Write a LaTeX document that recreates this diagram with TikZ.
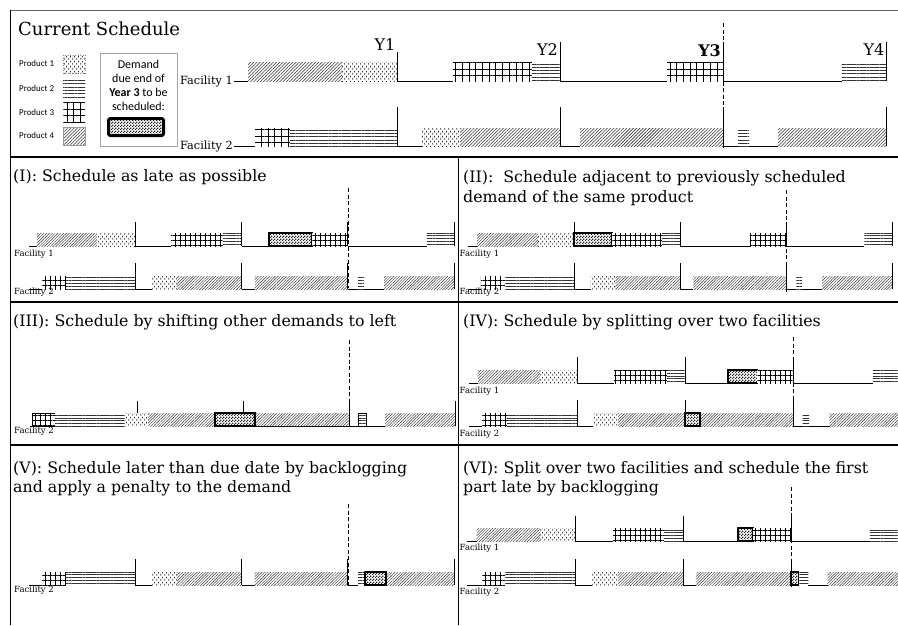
\documentclass[tikz,border=0pt]{standalone}
\usepackage{fontspec}
\setmainfont{DejaVu Serif}
\newfontfamily\calfont{Carlito}
\usetikzlibrary{patterns.meta}
\pgfdeclarepattern{
  name=vdots,
  type=uncolored,
  bottom left={\pgfpoint{0pt}{0pt}},
  top right={\pgfpoint{4pt}{5pt}},
  tile size={\pgfpoint{4pt}{5pt}},
  code={
    \pgfpathrectangle{\pgfpoint{0.5pt}{0.4pt}}{\pgfpoint{0.9pt}{2pt}}
    \pgfpathrectangle{\pgfpoint{2.5pt}{2.9pt}}{\pgfpoint{0.9pt}{1.8pt}}
    \pgfusepath{fill}
  }
}
\pgfdeclarepattern{
  name=ddots,
  type=uncolored,
  bottom left={\pgfpoint{0pt}{0pt}},
  top right={\pgfpoint{3pt}{3pt}},
  tile size={\pgfpoint{3pt}{3pt}},
  code={
    \pgfpathrectangle{\pgfpoint{0pt}{0pt}}{\pgfpoint{1.5pt}{1.5pt}}
    \pgfpathrectangle{\pgfpoint{1.5pt}{1.5pt}}{\pgfpoint{1.5pt}{1.5pt}}
    \pgfusepath{fill}
  }
}
\newcommand\rowset[5]{\def\rX{#1}\def\rS{#2}\def\rY{#3}\def\rH{#4}\def\rV{#5}}
\newcommand\bx[3]{\path[#3] ({\rX+\rS*(#1)},\rY) rectangle ({\rX+\rS*(#2)},{\rY-\rH});}
\newcommand\gp[2]{\draw[tl] ({\rX+\rS*(#1)},\rY) -- ({\rX+\rS*(#2)},\rY);}
\newcommand\vt[1]{\draw[tl] ({\rX+\rS*(#1)},\rY) -- ({\rX+\rS*(#1)},{\rY-\rV});}
\newcommand\vtt[1]{\draw[tl] ({\rX+\rS*(#1)},{\rY-\rH}) -- ({\rX+\rS*(#1)},{\rY-\rV});}
\begin{document}
\begin{tikzpicture}[x=1pt,y=-1pt,
  tl/.style={line width=0.9pt},
  dsh/.style={line width=0.9pt,dash pattern=on 4pt off 2.5pt},
  pa/.style={preaction={fill=white},pattern=vdots,pattern color=black!85},
  pb/.style={preaction={fill=white},pattern={Lines[distance=3.3pt,line width=0.8pt]},pattern color=black!80},
  pc/.style={preaction={fill=white},pattern={Hatch[distance=6.7pt,line width=0.7pt]},pattern color=black},
  pe/.style={preaction={fill=white},pattern={Lines[angle=45,distance=2.3pt,line width=0.55pt]},pattern color=black!80},
  pd/.style={preaction={fill=white},pattern=ddots,pattern color=black!85,draw=black,line width=1.6pt},
  ttl/.style={font=\fontsize{15.8}{18}\selectfont,anchor=base west,inner sep=0pt},
  fs/.style={font=\fontsize{8.5}{10}\selectfont,anchor=west,inner sep=0pt},
  lg/.style={font=\calfont\fontsize{8.9}{10}\selectfont,anchor=west,inner sep=0pt},
  yl/.style={font=\fontsize{16}{18}\selectfont,anchor=base east,inner sep=0pt}]
\useasboundingbox (0,0) rectangle (898,625);
\fill[white] (0,0) rectangle (898,625);
% frame
\draw[line width=0.8pt,black!60] (10,10.5) -- (898,10.5);
\draw[line width=1.3pt] (10.5,10) -- (10.5,625);
\draw[line width=2pt] (10,157) -- (898,157);
\draw[line width=2pt] (10,302) -- (898,302);
\draw[line width=2pt] (10,445) -- (898,445);
\draw[line width=1pt] (458.5,157) -- (458.5,625);
% ---------- current schedule ----------
\node[ttl,font=\fontsize{18}{20}\selectfont] (t0) at (18,35) {Current Schedule};
\node[lg] (l1) at (19,63) {Product 1};
\node[lg] (l2) at (19,88) {Product 2};
\node[lg] (l3) at (19,112) {Product 3};
\node[lg] (l4) at (19,135) {Product 4};
\path[pa,draw=black!50,dotted,line width=0.5pt] (63,55) rectangle (85,73);
\path[pb] (63,78) rectangle (85,97);
\path[pc] (63,102) rectangle (85,122);
\path[pe,draw=black!40,line width=0.4pt] (63,127) rectangle (85,145);
\draw[black!35,line width=0.8pt] (100,53) rectangle (177,146);
\node[align=center,font=\calfont\fontsize{12}{14}\selectfont,inner sep=0pt] (dtxt) at (138.5,85) {Demand\\due end of\\\textbf{Year 3} to be\\scheduled:};
\path[pd,line width=3pt,rounded corners=2pt] (108.5,118.5) rectangle (163.5,135.5);
\node[anchor=base east,font=\fontsize{11.3}{13}\selectfont,inner sep=0pt] (f1) at (233,84) {Facility 1};
\node[anchor=base east,font=\fontsize{11.3}{13}\selectfont,inner sep=0pt] (f2) at (233,149) {Facility 2};
\node[yl] (y1) at (395.5,50) {Y1};
\node[yl] (y2) at (558,55) {Y2};
\node[yl,font=\bfseries\fontsize{16}{18}\selectfont] (y3) at (721,56) {Y3};
\node[yl] (y4) at (884.5,55) {Y4};
\rowset{234}{163}{81}{19}{39}
\gp{0}{.086}\bx{.086}{.663}{pe}\bx{.663}{1}{pa}\gp{1}{1.344}\bx{1.344}{1.828}{pc}\bx{1.828}{2}{pb}\vt{2}\gp{2}{2.656}\bx{2.656}{3}{pc}\vt{3}\gp{3}{3.73}\bx{3.73}{4}{pb}\vt{4}
\draw[tl] (397,81) -- (397,52);
\rowset{234}{163}{146}{18}{39}
\gp{0}{.129}\bx{.129}{.344}{pc}\bx{.344}{1}{pb}\vt{1}\gp{1}{1.153}\bx{1.153}{1.387}{pa}\bx{1.387}{2}{pe}\vt{2}\gp{2}{2.123}\bx{2.123}{3}{pe}\vt{3}\gp{3}{3.092}\bx{3.092}{3.16}{pb}\gp{3.16}{3.337}\bx{3.337}{4}{pe}\vt{4}
\draw[dsh] (723,23) -- (723,147);
% ---------- panels ----------
\begin{scope}[
  pa/.style={preaction={fill=white},pattern=vdots,pattern color=black!80},
  pb/.style={preaction={fill=white},pattern={Lines[distance=2.8pt,line width=0.6pt]},pattern color=black!80},
  pc/.style={preaction={fill=white},pattern={Hatch[distance=5pt,line width=0.6pt]},pattern color=black},
  pe/.style={preaction={fill=white},pattern={Lines[angle=45,distance=2pt,line width=0.45pt]},pattern color=black!80},
  pd/.style={preaction={fill=white},pattern=ddots,pattern color=black!85,draw=black,line width=1.5pt}]
% (I)
\node[ttl] (t1) at (13,181) {(I): Schedule as late as possible};
\rowset{29}{106.3}{246}{13}{24}
\gp{0}{.075}\bx{.075}{.64}{pe}\bx{.64}{1}{pa}\vt{1}\gp{1}{1.336}\bx{1.336}{1.825}{pc}\bx{1.825}{2}{pb}\vt{2}\gp{2}{2.258}\bx{2.258}{2.662}{pd}\bx{2.662}{3}{pc}\vt{3}\gp{3}{3.744}\bx{3.744}{4}{pb}\vt{4}
\rowset{29}{106.3}{289}{13}{26}
\gp{0}{.122}\bx{.122}{.348}{pc}\bx{.348}{1}{pb}\vt{1}\gp{1}{1.157}\bx{1.157}{1.392}{pa}\bx{1.392}{2}{pe}\vt{2}\gp{2}{2.126}\bx{2.126}{3}{pe}\vt{3}\gp{3}{3.095}\bx{3.095}{3.15}{pb}\gp{3.15}{3.34}\bx{3.34}{4}{pe}\vt{4}
\draw[dsh] (348,188) -- (348,288);
\node[fs] (a1) at (14,254) {Facility 1};
\node[fs] (a2) at (14,292) {Facility 2};
% (II)
\node[ttl] (t2a) at (463,182) {(II):\ \ Schedule adjacent to previously scheduled};
\node[ttl] (t2b) at (463,202) {demand of the same product};
\rowset{468}{106}{246}{13}{24}
\gp{0}{.085}\bx{.085}{.66}{pe}\bx{.66}{1}{pa}\vt{1}\vt{2}\bx{1}{1.36}{pd}\bx{1.36}{1.83}{pc}\bx{1.83}{2}{pb}\gp{2}{2.66}\bx{2.66}{3}{pc}\vt{3}\gp{3}{3.74}\bx{3.74}{4}{pb}\vt{4}
\rowset{468}{106}{289}{13}{26}
\gp{0}{.122}\bx{.122}{.348}{pc}\bx{.348}{1}{pb}\vt{1}\gp{1}{1.157}\bx{1.157}{1.392}{pa}\bx{1.392}{2}{pe}\vt{2}\gp{2}{2.126}\bx{2.126}{3}{pe}\vt{3}\gp{3}{3.095}\bx{3.095}{3.15}{pb}\gp{3.15}{3.34}\bx{3.34}{4}{pe}\vt{4}
\draw[dsh] (786,190) -- (786,292);
\node[fs] (b1) at (459.5,254) {Facility 1};
\node[fs] (b2) at (459.5,292) {Facility 2};
% (III)
\node[ttl] (t3) at (13,326) {(III): Schedule by shifting other demands to left};
\rowset{31}{106}{426}{13}{25}
\gp{-.01}{.01}\gp{2.113}{3}\bx{.01}{.226}{pc,draw=black,line width=0.6pt}\bx{.226}{.887}{pb}\vtt{1}\bx{.887}{1.104}{pa}\bx{1.104}{1.736}{pe}\bx{2.113}{3}{pe}\bx{1.736}{2.113}{pd}\vtt{2}\vt{3}\gp{3}{3.09}\bx{3.09}{3.16}{pb,draw=black,line width=0.4pt}\gp{3.16}{3.34}\bx{3.34}{4}{pe}\vt{4}
\draw[dsh] (349,340) -- (349,426);
\node[fs] (c2) at (14,431) {Facility 2};
% (IV)
\node[ttl] (t4) at (463,326) {(IV): Schedule by splitting over two facilities};
\rowset{469}{108}{383}{13}{26}
\gp{0}{.083}\bx{.083}{.657}{pe}\bx{.657}{1}{pa}\vt{1}\gp{1}{1.343}\bx{1.343}{1.833}{pc}\bx{1.833}{2}{pb}\vt{2}\gp{2}{2.4}\bx{2.4}{2.67}{pd}\bx{2.67}{3}{pc}\vt{3}\gp{3}{3.74}\bx{3.74}{3.972}{pb}
\rowset{469}{108}{426}{13}{26}
\gp{0}{.12}\bx{.12}{.35}{pc}\bx{.35}{1}{pb}\vt{1}\gp{1}{1.15}\bx{1.15}{1.38}{pa}\bx{1.38}{2}{pe}\bx{2.14}{3}{pe}\bx{2}{2.14}{pd}\vt{2}\vt{3}\gp{3}{3.09}\bx{3.09}{3.15}{pb}\gp{3.15}{3.34}\bx{3.34}{3.972}{pe}
\draw[dsh] (793,337) -- (793,427);
\node[fs] (d1) at (459.5,391) {Facility 1};
\node[fs] (d2) at (459.5,434) {Facility 2};
% (V)
\node[ttl] (t5a) at (13,473) {(V): Schedule later than due date by backlogging};
\node[ttl] (t5b) at (13,492) {and apply a penalty to the demand};
\rowset{29}{106.3}{585}{13}{26}
\gp{0}{.122}\bx{.122}{.348}{pc}\bx{.348}{1}{pb}\vt{1}\gp{1}{1.157}\bx{1.157}{1.392}{pa}\bx{1.392}{2}{pe}\vt{2}\gp{2}{2.126}\bx{2.126}{3}{pe}\vt{3}\gp{3}{3.095}\bx{3.095}{3.16}{pb}\bx{3.36}{4}{pe}\bx{3.16}{3.36}{pd}\vt{4}
\draw[dsh] (348,504) -- (348,585);
\node[fs] (e2) at (14,590) {Facility 2};
% (VI)
\node[ttl] (t6a) at (463,473) {(VI): Split over two facilities and schedule the first};
\node[ttl] (t6b) at (463,492) {part late by backlogging};
\rowset{467}{108}{541}{13}{25}
\gp{0}{.09}\bx{.09}{.676}{pe}\bx{.676}{1}{pa}\vt{1}\gp{1}{1.352}\bx{1.352}{1.824}{pc}\bx{1.824}{2}{pb}\vt{2}\gp{2}{2.51}\bx{2.51}{2.65}{pd}\bx{2.65}{3}{pc}\vt{3}\gp{3}{3.73}\bx{3.73}{3.99}{pb}
\rowset{467}{108}{585}{13}{26}
\gp{0}{.14}\bx{.14}{.35}{pc}\bx{.35}{1}{pb}\vt{1}\gp{1}{1.157}\bx{1.157}{1.398}{pa}\bx{1.398}{2}{pe}\vt{2}\gp{2}{2.12}\bx{2.12}{3}{pe}\vt{3}\bx{3.07}{3.16}{pb}\bx{3}{3.07}{pd}\gp{3.16}{3.34}\bx{3.34}{3.99}{pe}
\draw[dsh] (791,487) -- (791,587);
\node[fs] (g1) at (459.5,548) {Facility 1};
\node[fs] (g2) at (459.5,592) {Facility 2};
\end{scope}
\end{tikzpicture}
\end{document}
